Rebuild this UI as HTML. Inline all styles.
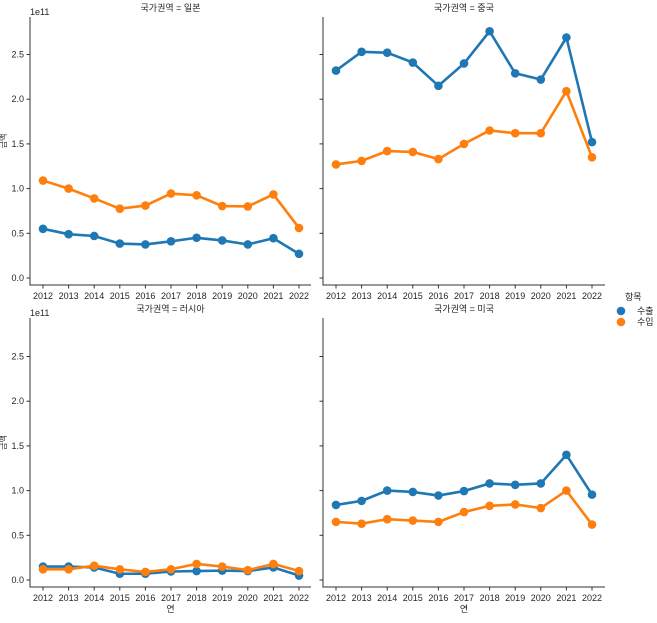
<!DOCTYPE html>
<html><head><meta charset="utf-8"><style>
body{margin:0;background:#fff}
svg text{font-family:"Liberation Sans","Noto Sans CJK KR",sans-serif;fill:#262626}
</style></head><body>
<svg id="c" width="657" height="618" xmlns="http://www.w3.org/2000/svg"></svg>
<script>
const years=["2012","2013","2014","2015","2016","2017","2018","2019","2020","2021","2022"];
const panelTitles=["국가권역 = 일본","국가권역 = 중국","국가권역 = 러시아","국가권역 = 미국"];
const yTicks=[0,0.5,1.0,1.5,2.0,2.5];
const yTickLabels=["0.0","0.5","1.0","1.5","2.0","2.5"];
const japanExport=[0.55,0.49,0.47,0.385,0.375,0.41,0.45,0.42,0.375,0.445,0.27];
const japanImport=[1.09,1.0,0.89,0.775,0.81,0.945,0.925,0.805,0.8,0.935,0.56];
const chinaExport=[2.32,2.53,2.52,2.41,2.15,2.40,2.76,2.29,2.22,2.69,1.52];
const chinaImport=[1.27,1.31,1.42,1.41,1.33,1.50,1.65,1.62,1.62,2.09,1.35];
const russiaExport=[0.15,0.15,0.14,0.07,0.07,0.095,0.10,0.105,0.10,0.14,0.05];
const russiaImport=[0.12,0.12,0.16,0.12,0.09,0.12,0.18,0.15,0.11,0.18,0.10];
const usExport=[0.84,0.885,1.0,0.985,0.945,0.995,1.08,1.065,1.08,1.40,0.955];
const usImport=[0.65,0.63,0.68,0.665,0.65,0.76,0.83,0.845,0.805,1.0,0.62];
const seriesNames=["수출","수입"];
const colors=["#1f77b4","#ff7f0e"];
const svg=document.getElementById('c');
const NS="http://www.w3.org/2000/svg";
function mk(t,a,p){const e=document.createElementNS(NS,t);for(const k in a)e.setAttribute(k,a[k]);(p||svg).appendChild(e);return e;}
const panels=[
 {x0:30,x1:311,top:17,bot:285,zero:278,data:[japanExport,japanImport],name:'japan',ylab:true,xlab:false},
 {x0:323,x1:605,top:17,bot:285,zero:278,data:[chinaExport,chinaImport],name:'china',ylab:false,xlab:false},
 {x0:30,x1:311,top:318,bot:587,zero:580,data:[russiaExport,russiaImport],name:'russia',ylab:true,xlab:true},
 {x0:323,x1:605,top:318,bot:587,zero:580,data:[usExport,usImport],name:'us',ylab:false,xlab:true}];
const unit=89.4;
panels.forEach((p,pi)=>{
 const g=mk('g',{});
 
 
 const xs=i=>p.x0+13+i*25.6;
 const ys=v=>p.zero-v*unit;
 const t=mk('text',{x:(p.x0+p.x1)/2,y:p.top-6,'text-anchor':'middle','font-size':9},g);t.textContent=panelTitles[pi];
 
 const ax=mk('path',{d:`M${p.x0} ${p.top}V${p.bot}H${p.x1}`,stroke:'#333',fill:'none','stroke-width':1},g);
 
 yTicks.forEach((v,i)=>{mk('line',{x1:p.x0-3.5,x2:p.x0,y1:ys(v),y2:ys(v),stroke:'#333'},g);
  if(p.ylab){const l=mk('text',{x:p.x0-6,y:ys(v)+3,'text-anchor':'end','font-size':9},g);l.textContent=yTickLabels[i];
  }});
 if(p.ylab){const e=mk('text',{x:p.x0,y:p.top-2,'font-size':9},g);e.textContent='1e11';
  const yl=mk('text',{x:6,y:(p.top+p.bot)/2-10,'font-size':8,'text-anchor':'middle',transform:`rotate(-90 6 ${(p.top+p.bot)/2-10})`},g);yl.textContent='금액';
  }
 years.forEach((y,i)=>{mk('line',{x1:xs(i),x2:xs(i),y1:p.bot,y2:p.bot+3.5,stroke:'#333'},g);
  const l=mk('text',{x:xs(i),y:p.bot+14,'text-anchor':'middle','font-size':9},g);l.textContent=y;
  });
 if(p.xlab){const l=mk('text',{x:(p.x0+p.x1)/2,y:p.bot+25,'text-anchor':'middle','font-size':9},g);l.textContent='연';
  }
 p.data.forEach((s,si)=>{
  const pl=mk('polyline',{points:s.map((v,i)=>xs(i)+','+ys(v)).join(' '),fill:'none',stroke:colors[si],'stroke-width':2.6},g);
  
  s.forEach((v,i)=>{const c=mk('circle',{cx:xs(i),cy:ys(v),r:4.3,fill:colors[si]},g);
   });
 });
});
const lg=mk('g',{});


const lt=mk('text',{x:625,y:300,'font-size':9},lg);lt.textContent='항목';
seriesNames.forEach((n,i)=>{mk('circle',{cx:621,cy:311+i*11,r:4.3,fill:colors[i]},lg);
 const t=mk('text',{x:637,y:314+i*11,'font-size':9},lg);t.textContent=n;
 });
</script>
</body></html>
